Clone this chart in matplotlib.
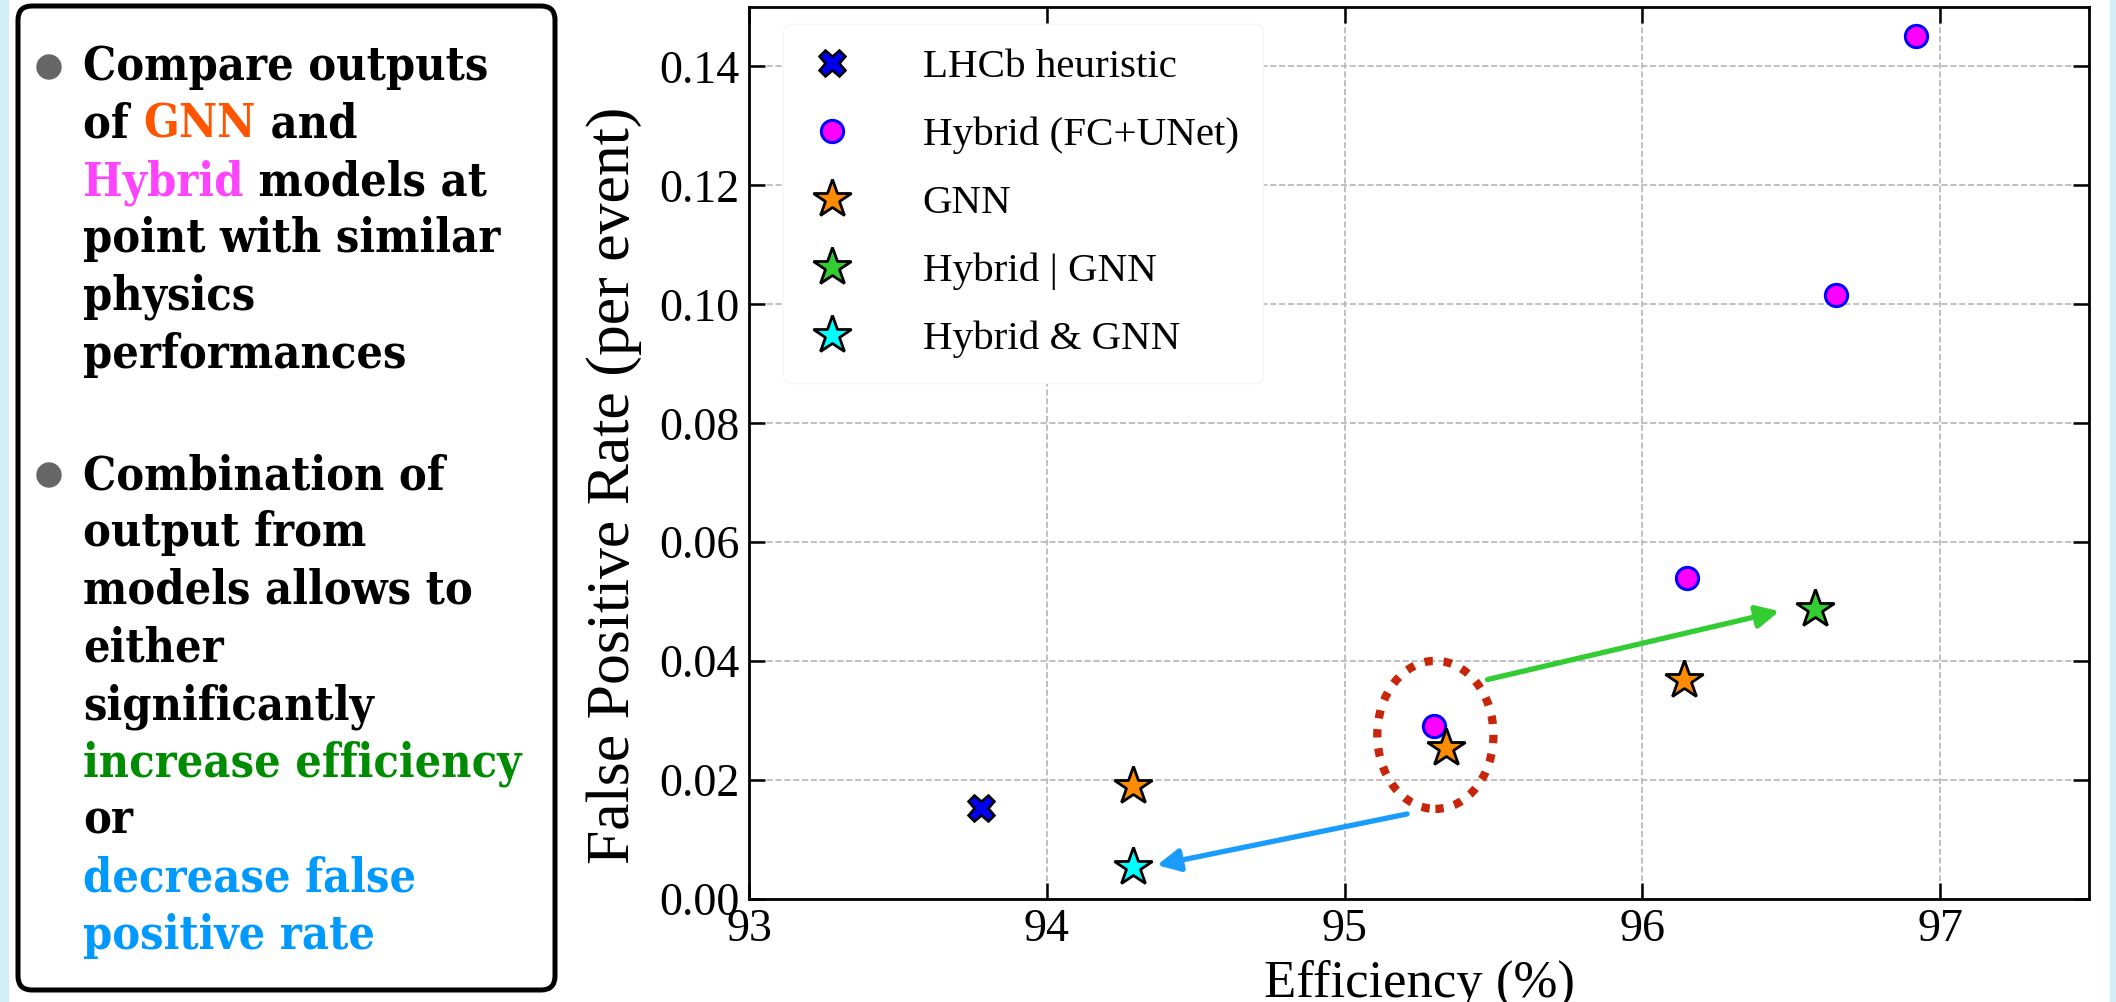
import matplotlib
matplotlib.use('Agg')
import matplotlib.pyplot as plt
from matplotlib import font_manager
from matplotlib.patches import Ellipse, FancyBboxPatch, Rectangle, Circle
from matplotlib.transforms import IdentityTransform

plt.rcParams['font.family'] = ['Liberation Serif', 'DejaVu Serif']

# Points
lhcb_eff = [93.78]
lhcb_fpr = [0.0153]
hybrid_eff = [96.92, 96.65, 96.15, 95.30]
hybrid_fpr = [0.1452, 0.1016, 0.0540, 0.0291]
gnn_eff = [94.29, 95.34, 96.14]
gnn_fpr = [0.0190, 0.0254, 0.0368]
or_eff = [96.58]
or_fpr = [0.0488]
and_eff = [94.29]
and_fpr = [0.0054]

x_ticks = [93, 94, 95, 96, 97]
y_ticks = [0.00, 0.02, 0.04, 0.06, 0.08, 0.10, 0.12, 0.14]

# Annotations (ellipse + fleches)
circle_center = (95.305, 0.0276)
circle_size = (0.39, 0.0249)
green_arrow = [(95.48, 0.0369), (96.46, 0.0484)]
blue_arrow = [(95.21, 0.0143), (94.37, 0.0057)]

# Texte de gauche: (morceau, couleur) par ligne
bullet1 = [
    [('Compare outputs', 'black')],
    [('of ', 'black'), ('GNN', '#ff5500'), (' and', 'black')],
    [('Hybrid', '#ff44ff'), (' models at', 'black')],
    [('point with similar', 'black')],
    [('physics', 'black')],
    [('performances', 'black')],
]
bullet2 = [
    [('Combination of', 'black')],
    [('output from', 'black')],
    [('models allows to', 'black')],
    [('either', 'black')],
    [('significantly', 'black')],
    [('increase efficiency', '#008c00')],
    [('or', 'black')],
    [('decrease false', '#0099ff')],
    [('positive rate', '#0099ff')],
]

# police du cadre: DejaVu Serif Condensed Bold si dispo
box_font = None
for f in font_manager.fontManager.ttflist:
    if 'DejaVuSerifCondensed-Bold.ttf' in f.fname:
        box_font = font_manager.FontProperties(fname=f.fname, size=33.5)
        break
if box_font is None:
    box_font = font_manager.FontProperties(family='DejaVu Serif', weight='bold', size=29.5)

W, H = 2116, 1002
fig = plt.figure(figsize=(W / 100, H / 100), dpi=100)
px = IdentityTransform()

# bandes bleu clair sur les bords
fig.patches.append(Rectangle((0, 0), 8, H, transform=px, color='#d4edf9', zorder=0))
fig.patches.append(Rectangle((2110, 0), 6, H, transform=px, color='#d4edf9', zorder=0))

ax = fig.add_axes([749 / W, 1 - 899 / H, 1340 / W, 892 / H])

ax.plot(lhcb_eff, lhcb_fpr, ls='none', marker='X', ms=19, mfc='#0000ee', mec='black',
        mew=1.8, label='LHCb heuristic', zorder=4)
ax.plot(hybrid_eff, hybrid_fpr, ls='none', marker='o', ms=16, mfc='#ff00ff', mec='#0000ff',
        mew=2.2, label='Hybrid (FC+UNet)', zorder=4)
ax.plot(gnn_eff, gnn_fpr, ls='none', marker='*', ms=29, mfc='#ff8c00', mec='black',
        mew=2.0, label='GNN', zorder=5)
ax.plot(or_eff, or_fpr, ls='none', marker='*', ms=29, mfc='#33cc33', mec='black',
        mew=2.0, label='Hybrid | GNN', zorder=5)
ax.plot(and_eff, and_fpr, ls='none', marker='*', ms=29, mfc='#00ffff', mec='black',
        mew=2.0, label='Hybrid & GNN', zorder=5)

ax.set_xlim(93, 97.5)
ax.set_ylim(0, 0.15)
ax.set_xticks(x_ticks)
ax.set_xticklabels([str(v) for v in x_ticks])
ax.set_yticks(y_ticks)
ax.set_yticklabels(['%.2f' % v for v in y_ticks])
ax.tick_params(direction='in', length=11.5, width=1.8, top=True, right=True,
               labelsize=33, pad=7)
for s in ax.spines.values():
    s.set_linewidth(2)
ax.grid(True, ls='--', color='#b5b5b5', lw=1.2)

ax.set_xlabel('Efficiency (%)', fontsize=38)
ax.xaxis.set_label_coords(0.5, -0.068)
ax.set_ylabel('False Positive Rate (per event)', fontsize=44.5)
ax.yaxis.set_label_coords(-0.08, 0.464)

leg = ax.legend(loc='upper left', bbox_to_anchor=(0.025, 0.981), borderaxespad=0,
                fontsize=29.5, numpoints=1, handlelength=1.2, handletextpad=1.62,
                labelspacing=0.74, borderpad=0.6, framealpha=1)
leg.get_frame().set_edgecolor('#f5f5f5')
leg.get_frame().set_linewidth(1.0)

ell = Ellipse(circle_center, circle_size[0], circle_size[1], fill=False,
              edgecolor='#c8260a', lw=6, ls=(0, (1, 1.3)), zorder=6)
ax.add_patch(ell)
ax.annotate('', xy=green_arrow[1], xytext=green_arrow[0],
            arrowprops=dict(arrowstyle='-|>', color='#33cc33', lw=3.8,
                            mutation_scale=34, shrinkA=0, shrinkB=0), zorder=6)
ax.annotate('', xy=blue_arrow[1], xytext=blue_arrow[0],
            arrowprops=dict(arrowstyle='-|>', color='#1a9cff', lw=3.8,
                            mutation_scale=34, shrinkA=0, shrinkB=0), zorder=6)

# cadre de gauche
box = FancyBboxPatch((18, H - 990), 537, 984, boxstyle='round,pad=0,rounding_size=14',
                     transform=px, fc='white', ec='black', lw=3.6, zorder=1)
fig.patches.append(box)

renderer = fig.canvas.get_renderer()


def draw_lines(lines, first_baseline, step=57.5, x0=83):
    for i, line in enumerate(lines):
        x = x0
        y = H - (first_baseline + i * step)
        for txt, col in line:
            t = fig.text(x, y, txt, transform=px, color=col, fontproperties=box_font,
                         va='baseline', zorder=3)
            x = t.get_window_extent(renderer).x1


draw_lines(bullet1, 80)
draw_lines(bullet2, 489)
for cy in [67, 475]:
    fig.patches.append(Circle((49, H - cy), 12, transform=px, color='#666666', zorder=3))

fig.savefig('out.png', dpi=100)
